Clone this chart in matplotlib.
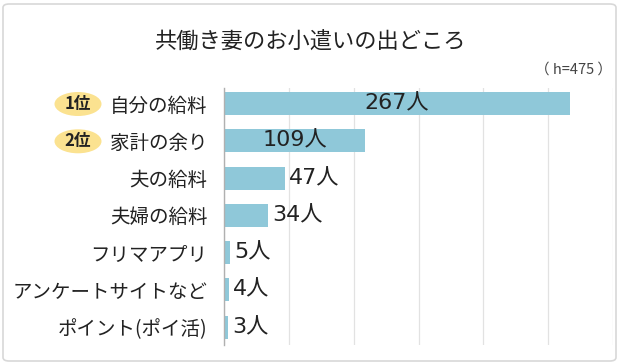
import matplotlib
matplotlib.use("Agg")
import matplotlib.pyplot as plt
from matplotlib.patches import Ellipse, FancyBboxPatch

plt.rcParams['font.family'] = ['Noto Sans CJK JP', 'DejaVu Sans']

categories = ["自分の給料", "家計の余り", "夫の給料", "夫婦の給料", "フリマアプリ", "アンケートサイトなど", "ポイント(ポイ活)"]
counts = [267, 109, 47, 34, 5, 4, 3]
ranks = ["1位", "2位"]
title = "共働き妻のお小遣いの出どころ"
note = "（ h=475 ）"

bar_color = "#8fc8d9"
text_color = "#222222"

fig = plt.figure(figsize=(6.2, 3.64), dpi=100)
ax = fig.add_axes([224/620, 1-345/364, (613-224)/620, (345-88)/364])

y = list(range(len(categories)))
ax.barh(y, counts, height=0.62, color=bar_color, zorder=2)
ax.set_xlim(0, 300)
ax.set_ylim(len(categories) - 0.52, -0.42)
ax.set_xticks(range(0, 301, 50))
ax.xaxis.grid(True, color="#e2e2e2", linewidth=0.9, zorder=0)
ax.tick_params(axis='x', length=0, labelbottom=False)
ax.tick_params(axis='y', length=0, pad=12, labelsize=14, labelcolor=text_color)
ax.set_yticks(y)
ax.set_yticklabels(categories)
for s in ["top", "right", "bottom"]:
    ax.spines[s].set_visible(False)
ax.spines["left"].set_color("#b0b0b0")
ax.spines["left"].set_linewidth(1.0)
ax.spines["left"].set_zorder(3)

# value labels: inside for long bars, outside for short ones
num_font = ['DejaVu Sans', 'Noto Sans CJK JP']
for yi, v in zip(y, counts):
    if v > 80:
        ax.text(v / 2, yi, f"{v}人", ha="center", va="center", fontsize=16,
                family=num_font, color=text_color, zorder=4)
    else:
        ax.text(v + 3, yi, f"{v}人", ha="left", va="center", fontsize=16,
                family=num_font, color=text_color, zorder=4)

# rank badges
for i, r in enumerate(ranks):
    yc = 1 - (104 + i * 37.3) / 364
    fig.add_artist(Ellipse((78/620, yc), 47/620, 24/364, transform=fig.transFigure,
                           facecolor="#fbe290", edgecolor="none"))
    fig.text(78/620, yc, r, ha="center", va="center", fontsize=12, fontweight="bold", color=text_color)

fig.text(311/620, 1-42/364, title, ha="center", va="center", fontsize=16, color=text_color)
fig.text(612/620, 1-70/364, note, ha="right", va="center", fontsize=10.5, color="#444444")

fig.add_artist(FancyBboxPatch((3/620, 3/364), 613/620, 357/364, boxstyle="round,pad=0,rounding_size=0.01",
                              transform=fig.transFigure, facecolor="none", edgecolor="#d8d8d8", linewidth=1.2))

fig.savefig("out.png", dpi=100)
